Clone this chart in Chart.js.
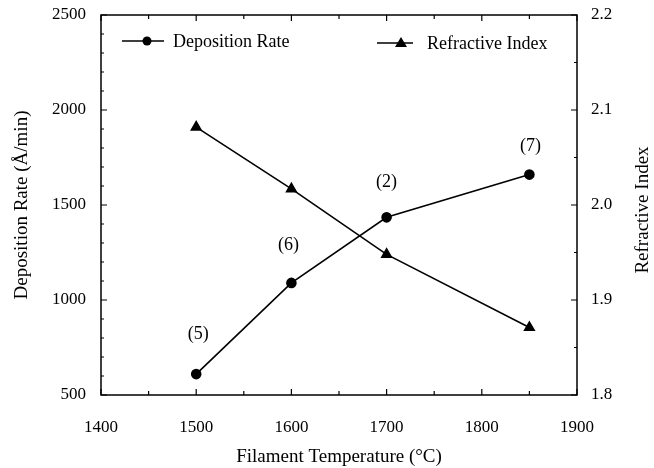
<!DOCTYPE html>
<html>
<head>
<meta charset="utf-8">
<script src="https://cdn.jsdelivr.net/npm/chart.js@4.4.0/dist/chart.umd.min.js"></script>
<style>
  html, body { margin: 0; padding: 0; background: #fff; }
  #wrap { width: 654px; height: 468px; position: relative; }
</style>
</head>
<body>
<div id="wrap"><canvas id="chart"></canvas></div>
<script>
// ---------- Data ----------
const temps = [1500, 1600, 1700, 1850];
const depositionRate = [610, 1090, 1435, 1660];
const refractiveIndex = [2.082, 2.017, 1.948, 1.871];
const runLabels = ['(5)', '(6)', '(2)', '(7)'];
const xTicks = [1400, 1500, 1600, 1700, 1800, 1900];
const leftTicks = [500, 1000, 1500, 2000, 2500];
const rightTicks = [1.8, 1.9, 2.0, 2.1, 2.2];

const FONT = 'Liberation Serif';

// ---------- Frame, inward ticks, legend, labels ----------
const decorPlugin = {
    id: 'decor',
    afterDraw(chart) {
        const ctx = chart.ctx;
        const a = chart.chartArea;
        const sx = chart.scales.x, sy = chart.scales.y, sy1 = chart.scales.y1;
        ctx.save();
        ctx.strokeStyle = '#000';
        ctx.lineWidth = 1.5;
        ctx.strokeRect(a.left, a.top, a.right - a.left, a.bottom - a.top);

        ctx.lineWidth = 1.2;
        ctx.beginPath();
        // x ticks, bottom and top
        for (let v = 1400; v <= 1900; v += 50) {
            const px = sx.getPixelForValue(v);
            const len = v % 100 === 0 ? 6 : 4;
            ctx.moveTo(px, a.bottom); ctx.lineTo(px, a.bottom - len);
            ctx.moveTo(px, a.top); ctx.lineTo(px, a.top + len);
        }
        // left ticks
        for (let v = 500; v <= 2500; v += 100) {
            const py = sy.getPixelForValue(v);
            const len = v % 500 === 0 ? 6 : 3;
            ctx.moveTo(a.left, py); ctx.lineTo(a.left + len, py);
        }
        // right ticks
        for (let i = 0; i <= 8; i++) {
            const v = 1.8 + i * 0.05;
            const py = sy1.getPixelForValue(v);
            const len = i % 2 === 0 ? 6 : 3;
            ctx.moveTo(a.right, py); ctx.lineTo(a.right - len, py);
        }
        ctx.stroke();

        // run labels above the deposition points
        const meta = chart.getDatasetMeta(0);
        const dy = [-40, -38, -35, -28];
        const dx = [2, -3, 0, 1];
        ctx.fillStyle = '#000';
        ctx.font = '18px "' + FONT + '"';
        ctx.textAlign = 'center';
        ctx.textBaseline = 'middle';
        meta.data.forEach((pt, i) => {
            ctx.fillText(runLabels[i], pt.x + dx[i], pt.y + dy[i]);
        });

        // legend
        ctx.lineWidth = 1.3;
        ctx.beginPath();
        ctx.moveTo(122, 41); ctx.lineTo(164, 41);
        ctx.moveTo(377, 43); ctx.lineTo(413, 43);
        ctx.stroke();
        ctx.beginPath();
        ctx.arc(147, 41, 4.5, 0, Math.PI * 2);
        ctx.fill();
        ctx.beginPath();
        ctx.moveTo(401, 37); ctx.lineTo(407, 47); ctx.lineTo(395, 47);
        ctx.closePath();
        ctx.fill();
        ctx.textAlign = 'left';
        ctx.fillText('Deposition Rate', 173, 42);
        ctx.fillText('Refractive Index', 427, 44);

        // right axis title, reading upward
        ctx.font = '19px "' + FONT + '"';
        ctx.translate(643, (a.top + a.bottom) / 2 + 5);
        ctx.rotate(-Math.PI / 2);
        ctx.textAlign = 'center';
        ctx.fillText('Refractive Index', 0, 0);
        ctx.restore();
    }
};

const tickFont = { family: FONT, size: 17 };
const titleFont = { family: FONT, size: 19 };

// fixed box sizes, no extra room kept for tick label overflow
function fixBox(size) {
    return s => {
        if (s.isHorizontal()) s.height = size; else s.width = size;
        s.paddingTop = 0; s.paddingBottom = 0;
        s.paddingLeft = 0; s.paddingRight = 0;
    };
}

new Chart(document.getElementById('chart'), {
    type: 'line',
    data: {
        datasets: [
            {
                label: 'Deposition Rate',
                data: temps.map((t, i) => ({ x: t, y: depositionRate[i] })),
                yAxisID: 'y',
                borderColor: '#000',
                backgroundColor: '#000',
                borderWidth: 1.6,
                pointStyle: 'circle',
                pointRadius: 4.5,
                tension: 0
            },
            {
                label: 'Refractive Index',
                data: temps.map((t, i) => ({ x: t, y: refractiveIndex[i] })),
                yAxisID: 'y1',
                borderColor: '#000',
                backgroundColor: '#000',
                borderWidth: 1.6,
                pointStyle: 'triangle',
                pointRadius: 5.5,
                tension: 0
            }
        ]
    },
    options: {
        responsive: true,
        maintainAspectRatio: false,
        animation: false,
        layout: { padding: { top: 15, left: 0, right: 0, bottom: 0 } },
        plugins: {
            legend: { display: false },
            tooltip: { enabled: false }
        },
        scales: {
            x: {
                type: 'linear',
                min: 1400, max: 1900,
                afterBuildTicks: s => { s.ticks = xTicks.map(v => ({ value: v })); },
                afterFit: fixBox(73),
                ticks: { color: '#000', font: tickFont, padding: 22, callback: v => String(v) },
                grid: { display: false, drawTicks: false },
                border: { display: false },
                title: {
                    display: true,
                    text: 'Filament Temperature (°C)',
                    color: '#000',
                    font: titleFont,
                    padding: { top: 0, bottom: 0 }
                }
            },
            y: {
                position: 'left',
                min: 500, max: 2500,
                afterBuildTicks: s => { s.ticks = leftTicks.map(v => ({ value: v })); },
                afterFit: fixBox(101),
                ticks: { color: '#000', font: tickFont, padding: 15, callback: v => String(v) },
                grid: { display: false, drawTicks: false },
                border: { display: false },
                title: {
                    display: true,
                    text: 'Deposition Rate (Å/min)',
                    color: '#000',
                    font: titleFont,
                    padding: { top: 11, bottom: 0 }
                }
            },
            y1: {
                position: 'right',
                min: 1.8, max: 2.2,
                afterBuildTicks: s => { s.ticks = rightTicks.map(v => ({ value: v })); },
                afterFit: fixBox(77),
                ticks: {
                    color: '#000', font: tickFont, padding: 14,
                    callback: v => Number(v).toFixed(1)
                },
                grid: { display: false, drawTicks: false },
                border: { display: false }
            }
        }
    },
    plugins: [decorPlugin]
});
</script>
</body>
</html>
